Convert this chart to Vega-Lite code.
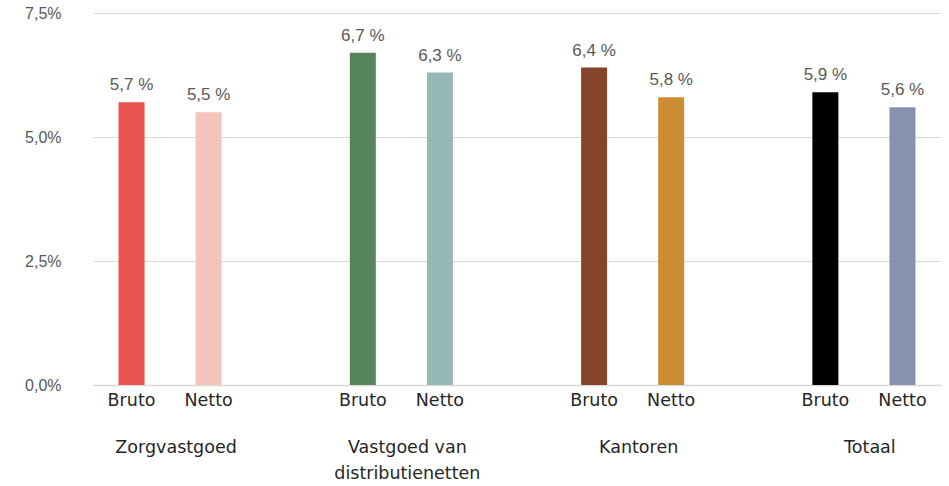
{
  "$schema": "https://vega.github.io/schema/vega-lite/v6.json",
  "width": 848,
  "height": 372,
  "autosize": "none",
  "padding": {"left": 93, "top": 13, "right": 8, "bottom": 101},
  "config": {"view": {"stroke": null}, "font": "Liberation Sans"},
  "datasets": {
    "rendement": [
      {"groep": "Zorgvastgoed", "type": "Bruto", "waarde": 5.7},
      {"groep": "Zorgvastgoed", "type": "Netto", "waarde": 5.5},
      {"groep": "Vastgoed van distributienetten", "type": "Bruto", "waarde": 6.7},
      {"groep": "Vastgoed van distributienetten", "type": "Netto", "waarde": 6.3},
      {"groep": "Kantoren", "type": "Bruto", "waarde": 6.4},
      {"groep": "Kantoren", "type": "Netto", "waarde": 5.8},
      {"groep": "Totaal", "type": "Bruto", "waarde": 5.9},
      {"groep": "Totaal", "type": "Netto", "waarde": 5.6}
    ],
    "groepen": [
      {"groep": "Zorgvastgoed", "label": "Zorgvastgoed"},
      {"groep": "Vastgoed van distributienetten", "label": "Vastgoed van\ndistributienetten"},
      {"groep": "Kantoren", "label": "Kantoren"},
      {"groep": "Totaal", "label": "Totaal"}
    ]
  },
  "layer": [
    {
      "data": {"name": "rendement"},
      "transform": [{"calculate": "datum.groep + '|' + datum.type", "as": "slot"}],
      "mark": {"type": "bar", "width": 26},
      "encoding": {
        "x": {
          "field": "slot",
          "type": "nominal",
          "sort": null,
          "scale": {
            "domain": [
              "Zorgvastgoed|Bruto", "Zorgvastgoed|Netto", "leeg1",
              "Vastgoed van distributienetten|Bruto", "Vastgoed van distributienetten|Netto", "leeg2",
              "Kantoren|Bruto", "Kantoren|Netto", "leeg3",
              "Totaal|Bruto", "Totaal|Netto"
            ],
            "paddingInner": 0,
            "paddingOuter": 0
          },
          "axis": {
            "title": null,
            "labelAngle": 0,
            "labelExpr": "indexof(datum.value, '|') > 0 ? split(datum.value, '|')[1] : ''",
            "labelFont": "DejaVu Sans",
            "labelFontSize": 17.5,
            "labelColor": "#262626",
            "labelPadding": 6,
            "ticks": false,
            "domainColor": "#d9d9d9",
            "domainWidth": 1.5
          }
        },
        "y": {
          "field": "waarde",
          "type": "quantitative",
          "scale": {"domain": [0, 7.5], "nice": false},
          "axis": {
            "title": null,
            "values": [0, 2.5, 5, 7.5],
            "labelExpr": "replace(format(datum.value, '.1f'), '.', ',') + '%'",
            "labelFontSize": 16,
            "labelColor": "#595959",
            "labelPadding": 32,
            "grid": true,
            "gridColor": "#d9d9d9",
            "gridWidth": 1,
            "domain": false,
            "ticks": false
          }
        },
        "color": {
          "field": "slot",
          "type": "nominal",
          "scale": {
            "domain": [
              "Zorgvastgoed|Bruto", "Zorgvastgoed|Netto",
              "Vastgoed van distributienetten|Bruto", "Vastgoed van distributienetten|Netto",
              "Kantoren|Bruto", "Kantoren|Netto",
              "Totaal|Bruto", "Totaal|Netto"
            ],
            "range": ["#E9534F", "#F4C3BB", "#56855D", "#96B9B5", "#86442B", "#CC8D35", "#000000", "#8793AE"]
          },
          "legend": null
        }
      }
    },
    {
      "data": {"name": "rendement"},
      "transform": [
        {"calculate": "datum.groep + '|' + datum.type", "as": "slot"},
        {"calculate": "replace(format(datum.waarde, '.1f'), '.', ',') + ' %'", "as": "tekst"}
      ],
      "mark": {"type": "text", "baseline": "alphabetic", "dy": -12, "fontSize": 17, "color": "#595959"},
      "encoding": {
        "x": {"field": "slot", "type": "nominal"},
        "y": {"field": "waarde", "type": "quantitative"},
        "text": {"field": "tekst"}
      }
    },
    {
      "data": {"name": "groepen"},
      "transform": [{"calculate": "datum.groep + '|Bruto'", "as": "slot"}],
      "mark": {
        "type": "text",
        "font": "DejaVu Sans",
        "fontSize": 17.5,
        "color": "#262626",
        "align": "center",
        "baseline": "alphabetic",
        "lineBreak": "\n",
        "lineHeight": 26,
        "dx": 6,
        "dy": 68
      },
      "encoding": {
        "x": {"field": "slot", "type": "nominal", "bandPosition": 1},
        "y": {"datum": 0, "type": "quantitative"},
        "text": {"field": "label"}
      }
    }
  ]
}
